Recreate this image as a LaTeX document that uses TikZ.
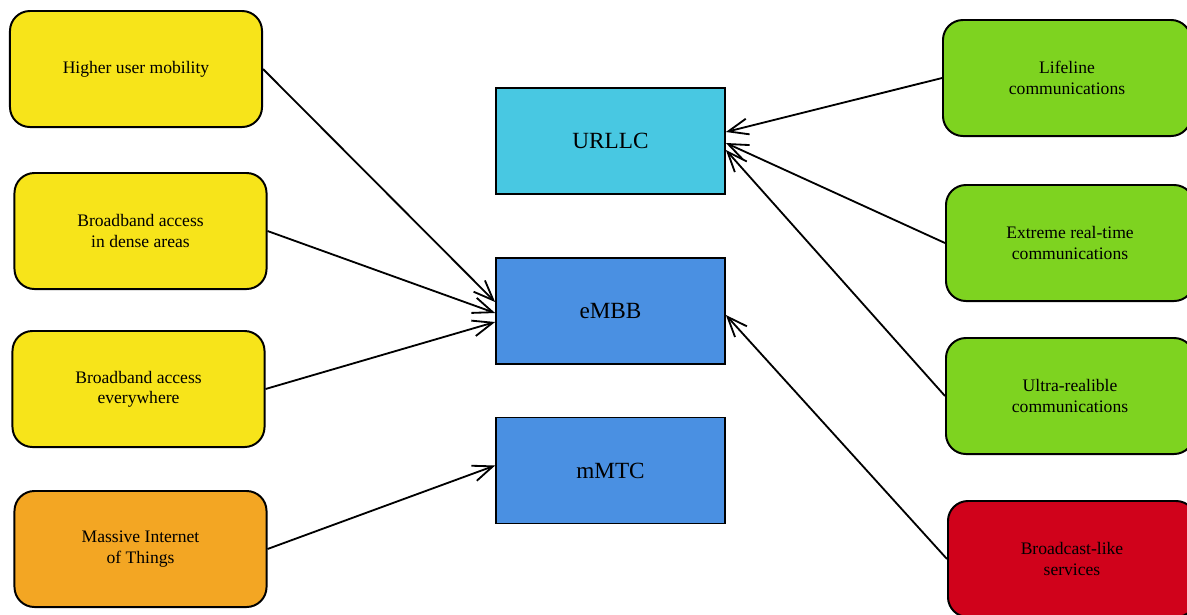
\documentclass[tikz,border=0pt]{standalone}
\usepackage{fontspec}
\setmainfont{Liberation Serif}
\usetikzlibrary{arrows.meta}

\definecolor{needyellow}{RGB}{247,228,26}
\definecolor{needorange}{RGB}{243,166,35}
\definecolor{needgreen}{RGB}{126,211,32}
\definecolor{needred}{RGB}{208,2,27}
\definecolor{usecyan}{RGB}{72,200,226}
\definecolor{useblue}{RGB}{74,144,226}

\tikzset{
  need/.style={draw=black,line width=1.4pt,rounded corners=0.5cm,minimum width=6.3cm,minimum height=2.9cm,align=center,font=\fontsize{12.5}{14.5}\selectfont},
  usage/.style={draw=black,line width=1.2pt,minimum width=5.725cm,minimum height=2.65cm,font=\fontsize{16.5}{19}\selectfont},
  link/.style={line width=1.3pt,-{Straight Barb[length=0.5cm,width=0.4cm]}}
}

\begin{document}
\begin{tikzpicture}[x=0.025cm,y=-0.025cm]
\clip (0,0) rectangle (1187,614);

% left side
\node[need,fill=needyellow] (mobility) at (136,69) {Higher user mobility};
\node[need,fill=needyellow] (dense) at (140.5,231) {Broadband access\\in dense areas};
\node[need,fill=needyellow] (everywhere) at (138.5,389) {Broadband access\\everywhere};
\node[need,fill=needorange] (iot) at (140.5,549) {Massive Internet\\of Things};

% middle
\node[usage,fill=usecyan] (urllc) at (610.5,141) {URLLC};
\node[usage,fill=useblue] (embb) at (610.5,311) {eMBB};
\node[usage,fill=useblue] (mmtc) at (610.5,470.5) {mMTC};

% right side
\node[need,fill=needgreen,minimum width=6.2cm] (lifeline) at (1067,78) {Lifeline\\communications};
\node[need,fill=needgreen,minimum width=6.2cm] (realtime) at (1070,243) {Extreme real-time\\communications};
\node[need,fill=needgreen,minimum width=6.2cm] (reliable) at (1070,396) {Ultra-realible\\communications};
\node[need,fill=needred,minimum width=6.2cm] (broadcast) at (1072,559) {Broadcast-like\\services};

% arrows
\draw[link] (mobility.east) -- ([yshift=0.225cm]embb.west);
\draw[link] (dense.east) -- ([yshift=-0.05cm]embb.west);
\draw[link] (everywhere.east) -- ([yshift=-0.275cm]embb.west);
\draw[link] (iot.east) -- ([yshift=0.125cm]mmtc.west);

\draw[link] (lifeline.west) -- ([yshift=0.225cm]urllc.east);
\draw[link] (realtime.west) -- ([yshift=-0.05cm]urllc.east);
\draw[link] (reliable.west) -- ([yshift=-0.225cm]urllc.east);
\draw[link] (broadcast.west) -- ([yshift=-0.1cm]embb.east);
\end{tikzpicture}
\end{document}
